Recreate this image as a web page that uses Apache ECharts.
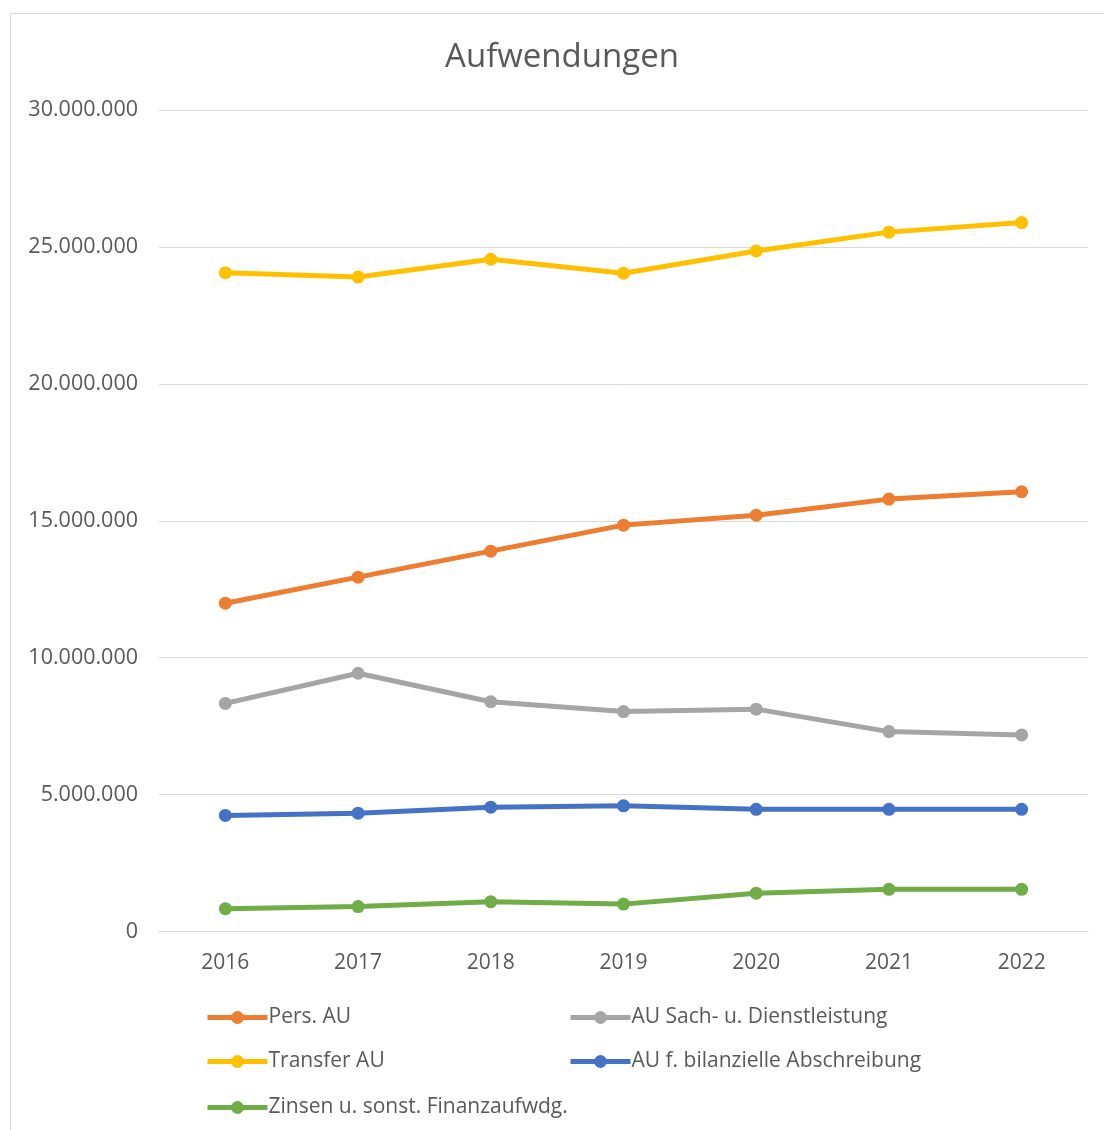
<!DOCTYPE html>
<html>
<head>
<meta charset="utf-8">
<script src="https://cdn.jsdelivr.net/npm/echarts@6/dist/echarts.min.js"></script>
<style>
html,body{margin:0;padding:0;background:#fff;}
#chart{width:1104px;height:1130px;}
</style>
</head>
<body>
<div id="chart"></div>
<script>
var years = ['2016', '2017', '2018', '2019', '2020', '2021', '2022'];
var persAU = [11990000, 12940000, 13890000, 14840000, 15200000, 15790000, 16060000];
var sachAU = [8330000, 9430000, 8390000, 8030000, 8120000, 7300000, 7180000];
var transferAU = [24060000, 23900000, 24550000, 24040000, 24850000, 25540000, 25890000];
var abschreibungAU = [4240000, 4320000, 4540000, 4590000, 4460000, 4460000, 4460000];
var zinsenAU = [830000, 910000, 1090000, 1000000, 1400000, 1540000, 1540000];
var seriesNames = ['Pers. AU', 'AU Sach- u. Dienstleistung', 'Transfer AU', 'AU f. bilanzielle Abschreibung', 'Zinsen u. sonst. Finanzaufwdg.'];
var seriesColors = ['#ED7D31', '#A5A5A5', '#FFC000', '#4472C4', '#70AD47'];
var seriesData = [persAU, sachAU, transferAU, abschreibungAU, zinsenAU];

var FONT = 'Open Sans';
var TXT = '#595959';

function fmt(v) {
  return String(Math.round(v)).replace(/\B(?=(\d{3})+(?!\d))/g, '.');
}

var legendPos = [
  {left: 200, top: 1002},
  {left: 563, top: 1002},
  {left: 200, top: 1046},
  {left: 563, top: 1046},
  {left: 200, top: 1092}
];

var chart = echarts.init(document.getElementById('chart'));
chart.setOption({
  backgroundColor: '#fff',
  animation: false,
  textStyle: {fontFamily: FONT},
  graphic: [{
    type: 'rect', silent: true, z: -10,
    shape: {x: 10.5, y: 13.5, width: 1200, height: 1200},
    style: {fill: 'none', stroke: '#D9D9D9', lineWidth: 1}
  }],
  title: {
    text: 'Aufwendungen',
    left: 557, top: 36, textAlign: 'center',
    textStyle: {fontFamily: FONT, fontSize: 33, fontWeight: 'normal', color: TXT}
  },
  legend: seriesNames.map(function (n, i) {
    return {
      data: [n], left: legendPos[i].left, top: legendPos[i].top,
      itemWidth: 60, itemHeight: 16, itemGap: 0,
      lineStyle: {width: 5},
      textStyle: {fontFamily: FONT, fontSize: 21, color: TXT, padding: [0, 0, 0, -4]}
    };
  }),
  grid: {left: 159, right: 16, top: 110, bottom: 198.5, containLabel: false},
  xAxis: {
    type: 'category', data: years, boundaryGap: true,
    axisLine: {lineStyle: {color: '#D9D9D9', width: 1}},
    axisTick: {show: false},
    axisLabel: {fontFamily: FONT, fontSize: 21, color: TXT, margin: 21}
  },
  yAxis: {
    type: 'value', min: 0, max: 30000000, interval: 5000000,
    axisLine: {show: false}, axisTick: {show: false},
    splitLine: {lineStyle: {color: '#D9D9D9', width: 1}},
    axisLabel: {fontFamily: FONT, fontSize: 21.5, color: TXT, margin: 21, formatter: fmt}
  },
  series: seriesNames.map(function (n, i) {
    return {
      name: n, type: 'line', data: seriesData[i],
      symbol: 'circle', symbolSize: 13, showSymbol: true,
      lineStyle: {color: seriesColors[i], width: 5},
      itemStyle: {color: seriesColors[i]},
      z: 2 + i
    };
  })
});
</script>
</body>
</html>
